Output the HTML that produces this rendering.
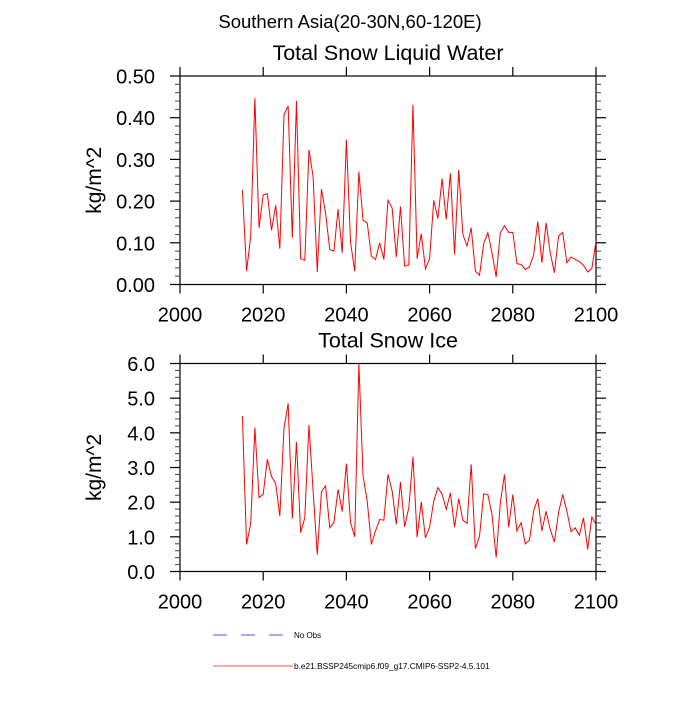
<!DOCTYPE html>
<html><head><meta charset="utf-8"><style>
body{margin:0;background:#fff;}
svg text{font-family:"Liberation Sans",Arial,sans-serif;fill:#000;}
</style></head><body>
<svg id="chart" width="700" height="700" viewBox="0 0 700 700" xmlns="http://www.w3.org/2000/svg">
<text x="350" y="28" font-size="18.5" text-anchor="middle">Southern Asia(20-30N,60-120E)</text>
<g id="p1"></g>
<g id="p2"></g>
<g>
<line x1="213" y1="635" x2="285" y2="635" stroke="#5050e8" stroke-width="1" stroke-dasharray="14,14"/>
<text x="294" y="638" font-size="8">No Obs</text>
<line x1="213" y1="666" x2="293" y2="666" stroke="#ff5050" stroke-width="1"/>
<text x="294" y="669" font-size="8.3">b.e21.BSSP245cmip6.f09_g17.CMIP6-SSP2-4.5.101</text>
</g>
</svg>
<script>
const years=[];for(let y=2015;y<=2100;y++)years.push(y);
const liquidWater=[0.227,0.032,0.116,0.447,0.136,0.215,0.218,0.130,0.190,0.086,0.407,0.428,0.112,0.440,0.062,0.058,0.323,0.259,0.030,0.229,0.171,0.084,0.080,0.181,0.076,0.347,0.101,0.032,0.270,0.154,0.148,0.068,0.060,0.100,0.060,0.202,0.183,0.066,0.187,0.044,0.047,0.431,0.062,0.122,0.038,0.062,0.202,0.158,0.254,0.156,0.267,0.072,0.275,0.120,0.092,0.136,0.032,0.022,0.098,0.124,0.076,0.018,0.124,0.141,0.125,0.125,0.050,0.048,0.036,0.042,0.070,0.151,0.052,0.148,0.076,0.028,0.116,0.125,0.052,0.066,0.060,0.055,0.046,0.030,0.038,0.104];
const snowIce=[4.49,0.78,1.38,4.15,2.13,2.23,3.24,2.74,2.54,1.60,4.13,4.85,1.53,3.74,1.12,1.55,4.23,2.32,0.49,2.30,2.47,1.26,1.41,2.37,1.73,3.11,1.41,1.00,6.00,2.76,2.03,0.78,1.17,1.50,1.48,2.80,2.32,1.36,2.58,1.29,1.84,3.31,0.99,2.01,0.97,1.28,2.03,2.42,2.23,1.79,2.27,1.28,2.10,1.48,1.39,3.09,0.66,1.02,2.24,2.22,1.65,0.40,1.98,2.80,1.28,2.22,1.17,1.41,0.80,0.90,1.74,2.10,1.17,1.74,1.21,0.85,1.70,2.22,1.74,1.15,1.26,1.05,1.55,0.64,1.57,1.36];
const xTicks=[2000,2020,2040,2060,2080,2100];
const yTicks1=[0,0.1,0.2,0.3,0.4,0.5];
const yTicks2=[0,1,2,3,4,5,6];
const NS="http://www.w3.org/2000/svg";
function mk(parent,tag,attrs){const e=document.createElementNS(NS,tag);for(const k in attrs)e.setAttribute(k,attrs[k]);parent.appendChild(e);return e;}
function panel(g,cfg){
 const L=180,R=596,T=cfg.top,B=cfg.bot;
 const xs=v=>L+(v-2000)/100*(R-L);
 const ys=v=>B-(v-cfg.ymin)/(cfg.ymax-cfg.ymin)*(B-T);
 const f=mk(g,'rect',{x:L,y:T,width:R-L,height:B-T,fill:'none',stroke:'#000','stroke-width':1.2});
 
 
 xTicks.forEach(t=>{
  const x=xs(t);
  const a=mk(g,'line',{x1:x,y1:B,x2:x,y2:B+9,stroke:'#000','stroke-width':1.2});
  
  
  const b=mk(g,'line',{x1:x,y1:T,x2:x,y2:T-9,stroke:'#000','stroke-width':1.2});
  
  
  const tx=mk(g,'text',{x:x,y:B+37,'font-size':20,'text-anchor':'middle'});
  tx.textContent=t;
  
  
 });
 const ticks=cfg.yt;
 for(let i=0;i<ticks.length;i++){
  const y=ys(ticks[i]);
  [[L,L-10],[R,R+10]].forEach(p=>{const l=mk(g,'line',{x1:p[0],y1:y,x2:p[1],y2:y,stroke:'#000','stroke-width':1.2});
   
   });
  const tx=mk(g,'text',{x:155,y:y+7.5,'font-size':20,'text-anchor':'end'});
  tx.textContent=ticks[i].toFixed(cfg.dec);
  
  
  if(i<ticks.length-1){const step=(ticks[i+1]-ticks[i])/5;
   for(let k=1;k<5;k++){const ym=ys(ticks[i]+k*step);
    [[L,L-5],[R,R+5]].forEach(p=>{const l=mk(g,'line',{x1:p[0],y1:ym,x2:p[1],y2:ym,stroke:'#444','stroke-width':1});
     
     });}}
 }
 const yt=mk(g,'text',{x:0,y:0,'font-size':21,'text-anchor':'middle',transform:`translate(101,${(T+B)/2}) rotate(-90)`});
 yt.textContent='kg/m^2';
 
 
 const tt=mk(g,'text',{x:388,y:T-16,'font-size':21.5,'text-anchor':'middle'});
 tt.textContent=cfg.title;
 
 
 const pts=years.map((yr,i)=>xs(yr).toFixed(2)+','+ys(cfg.data[i]).toFixed(2)).join(' ');
 const pl=mk(g,'polyline',{points:pts,fill:'none',stroke:'#ff0000','stroke-width':1});
 
 
}
panel(document.getElementById('p1'),{top:76,bot:284.5,ymin:0,ymax:0.5,yt:yTicks1,dec:2,title:'Total Snow Liquid Water',data:liquidWater});
panel(document.getElementById('p2'),{top:363.5,bot:571.5,ymin:0,ymax:6,yt:yTicks2,dec:1,title:'Total Snow Ice',data:snowIce});
</script>
</body></html>
